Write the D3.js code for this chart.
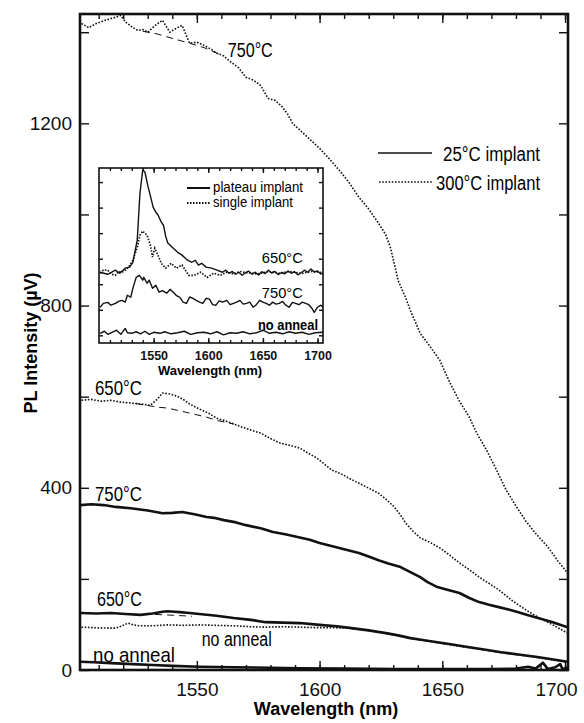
<!DOCTYPE html>
<head>
  <meta charset="utf-8">
  <script src="https://d3js.org/d3.v7.min.js"></script>
  <style type="text/css">
body { margin:0; background:#fff; }
svg { font-family: "Liberation Sans", Arial, sans-serif; }

/* 25C implant curves */
.thick { fill:none; stroke:#111; stroke-width:2.6; stroke-linejoin:round; }
/* 300C implant curves */
.dots { fill:none; stroke:#111; stroke-width:1.6; stroke-dasharray:1.6,1.6; }
/* background fits under the peak */
.fit { fill:none; stroke:#111; stroke-width:1; stroke-dasharray:7,5; }
/* inset curves */
.thin { fill:none; stroke:#111; stroke-width:1.4; stroke-linejoin:round; }
.idots { fill:none; stroke:#111; stroke-width:1.7; stroke-dasharray:1.5,1.5; }

.axis line { stroke:#111; stroke-width:1.4; }
.axis text { fill:#111; }
.frame { fill:none; stroke:#111; stroke-width:2.6; }
  </style>
</head>

<body>
  <script>

// ---- main plot data: [wavelength nm, PL intensity uV] ----
var hot750 = [[1503,1419],[1506,1410],[1509,1419],[1512,1425],[1515,1430],[1517,1433],[1519,1437],[1521,1422],[1524,1410],[1526,1404],[1528,1406],[1530,1400],[1532,1410],[1534,1419],[1536,1426],[1539,1400],[1542,1410],[1544,1415],[1547,1376],[1550,1378],[1553,1371],[1556,1362],[1558,1354],[1561,1348],[1563,1338],[1567,1322],[1570,1301],[1573,1295],[1576,1283],[1579,1255],[1582,1250],[1585,1235],[1587,1220],[1589,1200],[1593,1180],[1596,1165],[1600,1145],[1604,1122],[1608,1097],[1612,1070],[1616,1038],[1620,1012],[1624,981],[1627,955],[1629,925],[1632,855],[1635,818],[1637,789],[1641,739],[1645,710],[1649,680],[1651,655],[1654,621],[1657,590],[1661,555],[1664,520],[1668,483],[1672,440],[1676,395],[1680,360],[1684,327],[1688,300],[1693,270],[1697,240],[1701,213]];
var hot650 = [[1503,592],[1507,594],[1511,590],[1515,592],[1519,588],[1523,586],[1527,584],[1531,581],[1534,595],[1536,608],[1539,606],[1542,601],[1545,592],[1547,584],[1551,573],[1555,563],[1558,553],[1562,546],[1565,540],[1570,530],[1576,520],[1580,508],[1584,498],[1588,493],[1592,487],[1595,477],[1599,465],[1602,452],[1605,439],[1609,430],[1612,421],[1616,410],[1619,402],[1624,388],[1627,375],[1630,360],[1633,340],[1635,323],[1638,305],[1641,290],[1645,280],[1649,268],[1653,252],[1657,235],[1661,220],[1665,204],[1669,190],[1673,176],[1678,154],[1681,143],[1684,132],[1689,116],[1695,99],[1701,81]];
var hotNone = [[1503,94],[1508,93],[1513,92],[1517,92],[1520,98],[1522,103],[1524,99],[1527,97],[1532,97],[1538,99],[1545,98],[1551,99],[1558,98],[1565,97],[1572,95],[1578,94],[1585,95],[1592,94],[1598,93],[1604,93],[1611,92],[1620,87],[1627,81],[1637,70],[1648,60],[1661,49],[1674,38],[1688,28],[1701,17]];
var cold750 = [[1502.5,362],[1507,364],[1512,362],[1517,358],[1523,355],[1530,350],[1536,344],[1540,345],[1544,347],[1549,342],[1554,336],[1557,334],[1561,329],[1566,324],[1570,318],[1576,311],[1581,303],[1586,298],[1591,292],[1596,286],[1600,279],[1608,268],[1616,257],[1620,249],[1624,241],[1628,234],[1633,226],[1637,215],[1641,204],[1644,193],[1648,182],[1652,176],[1657,169],[1661,158],[1665,149],[1669,143],[1673,138],[1677,133],[1681,127],[1685,120],[1689,114],[1695,105],[1701,94]];
var cold650 = [[1502.5,125],[1509,124],[1515,125],[1521,123],[1527,121],[1532,124],[1536,128],[1538,129],[1541,128],[1543,127],[1547,125],[1551,123],[1558,119],[1565,114],[1572,110],[1578,105],[1585,104],[1592,103],[1600,99],[1607,96],[1613,92],[1620,87],[1627,81],[1632,76],[1637,70],[1642,66],[1648,61],[1654,56],[1661,50],[1667,45],[1674,39],[1681,34],[1688,29],[1694,24],[1701,18]];
var coldNone = [[1502.5,18],[1508,17],[1515,15],[1524,13],[1532,11],[1540,9],[1551,7],[1565,6],[1580,5],[1592,4],[1610,3],[1632,2],[1650,2],[1668,2],[1680,3],[1685,7],[1688,3],[1691,16],[1693,2],[1696,6],[1698,13],[1699,2],[1701,5]];
// dashed background fits under the 1540 nm peak
var fit750 = [[1528,1402],[1534,1396],[1541,1385],[1547,1376],[1553,1366],[1560,1350]];
var fit650 = [[1525,585],[1534,577],[1538,575],[1547,564],[1554,555],[1558,548],[1565,540]];
var fitCold650 = [[1533,122],[1541,120],[1548,118]];

var xTicks = [1550, 1600, 1650, 1700];
var yTicks = [0, 200, 400, 600, 800, 1000, 1200, 1400];
var yTickLabels = [0, 400, 800, 1200];

// ---- inset data: [wavelength nm, PL arb. units] ----
var insPlateau650 = [[1501,2.47],[1508,2.39],[1515,2.55],[1519,2.43],[1524,2.63],[1528,2.67],[1531,2.86],[1535,3.73],[1537.5,5.57],[1540,6.47],[1542,6.39],[1545,5.8],[1548,5.29],[1549.5,5.02],[1552,4.82],[1554,4.71],[1557,4.43],[1559,4.31],[1561,3.88],[1563,3.61],[1567,3.45],[1570,3.33],[1572,3.25],[1576,3.14],[1579,3.02],[1581,2.94],[1585,2.86],[1588,2.94],[1591,2.75],[1594,2.82],[1598,2.67],[1603,2.63],[1608,2.55],[1613,2.47],[1616,2.55],[1619,2.43],[1622,2.5],[1625,2.39],[1628,2.47],[1631,2.35],[1634,2.45],[1637,2.51],[1640,2.4],[1643,2.47],[1646,2.36],[1649,2.49],[1652,2.42],[1655,2.55],[1658,2.44],[1661,2.5],[1664,2.38],[1667,2.46],[1670,2.41],[1673,2.52],[1676,2.43],[1679,2.49],[1682,2.37],[1685,2.45],[1688,2.55],[1691,2.47],[1694,2.6],[1697,2.48],[1700,2.52],[1703,2.4],[1705,2.45]];
var insSingle650 = [[1501,2.43],[1504,2.55],[1508,2.55],[1511,2.4],[1515,2.35],[1518,2.5],[1521,2.47],[1524,2.55],[1527,2.67],[1531,2.94],[1535,3.45],[1537.5,3.92],[1540,4.08],[1542,4.0],[1544,3.92],[1547,3.53],[1549,3.06],[1551,3.41],[1554,3.14],[1557,2.82],[1561,2.63],[1566,2.82],[1571,2.63],[1576,2.75],[1582,2.35],[1587,2.35],[1593,2.47],[1599,2.27],[1605,2.43],[1611,2.35],[1617,2.47],[1623,2.4],[1629,2.5],[1635,2.45],[1645,2.4],[1655,2.5],[1665,2.43],[1675,2.5],[1685,2.42],[1695,2.5],[1705,2.45]];
var insPlateau750 = [[1501,1.1],[1504,1.25],[1508,1.29],[1511,1.18],[1515,1.25],[1518,1.33],[1521,1.37],[1524,1.3],[1526,1.57],[1529,1.49],[1531,1.84],[1534,2.27],[1537,2.35],[1540,2.16],[1541,2.27],[1544,2.04],[1546,2.16],[1549,1.84],[1552,1.96],[1555,1.69],[1558,1.75],[1562,1.65],[1565,1.8],[1568,1.69],[1571,1.55],[1574,1.49],[1577,1.3],[1580,1.25],[1583,1.5],[1586,1.45],[1589,1.37],[1592,1.3],[1595,1.25],[1598,1.45],[1601,1.42],[1604,1.2],[1607,1.18],[1610,1.35],[1613,1.3],[1617,1.37],[1620,1.2],[1623,1.25],[1626,1.3],[1629,1.37],[1632,1.22],[1635,1.25],[1638,1.3],[1641,1.1],[1644,1.2],[1647,1.37],[1650,1.3],[1653,1.25],[1656,1.18],[1659,1.3],[1662,1.22],[1665,1.25],[1668,1.33],[1671,1.18],[1674,1.1],[1677,1.29],[1680,1.25],[1683,1.2],[1686,1.3],[1689,1.25],[1692,1.2],[1695,1.05],[1697,0.9],[1700,1.1],[1703,1.18],[1705,1.1]];
var insNone = [[1501,0.08],[1505,0.16],[1508,0.04],[1512,0.12],[1516,0.2],[1520,0.04],[1524,0.27],[1526,0.1],[1530,0.08],[1534,0.14],[1538,0.06],[1542,0.16],[1546,0.04],[1550,0.12],[1556,0.08],[1560,0.14],[1566,0.06],[1572,0.1],[1578,0.16],[1584,0.04],[1590,0.1],[1596,0.12],[1602,0.06],[1608,0.14],[1614,0.02],[1620,0.1],[1626,0.08],[1632,0.14],[1638,0.06],[1644,0.1],[1650,0.2],[1656,0.08],[1662,0.12],[1668,0.06],[1674,0.14],[1680,0.08],[1686,0.12],[1692,0.04],[1698,0.1],[1705,0.12]];

var insXTicks = [1550, 1600, 1650, 1700];
var insYTicks = [0, 1, 2, 3, 4, 5, 6];

// ---- scales ----
var xScale = d3.scaleLinear().domain([1502.4, 1701.2]).range([80, 568]);
var yScale = d3.scaleLinear().domain([0, 1440]).range([670, 14]);

var ix = d3.scaleLinear().domain([1500, 1705]).range([99, 323]);
var iy = d3.scaleLinear().domain([-0.3, 6.55]).range([343, 168]);

var svg = d3.select("body").append("svg")
    .attr("width", 584)
    .attr("height", 723);

var line = d3.line()
    .x(function(d) { return xScale(d[0]); })
    .y(function(d) { return yScale(d[1]); });

var iline = d3.line()
    .x(function(d) { return ix(d[0]); })
    .y(function(d) { return iy(d[1]); });

// text squeezed to the width the scan shows
function label(x, y, txt, size, len, weight) {
  return svg.append("text")
    .attr("x", x).attr("y", y)
    .attr("font-size", size)
    .attr("font-weight", weight || "normal")
    .attr("textLength", len)
    .attr("lengthAdjust", "spacingAndGlyphs")
    .text(txt);
}

// ---- main axes (ticks point inward) ----
var minorX = d3.range(1510, 1701, 10);

svg.append("g").attr("class", "axis")
    .attr("transform", "translate(0,670)")
    .call(d3.axisBottom(xScale).tickValues(minorX).tickSize(-5).tickFormat(""));
var xAxisG = svg.append("g").attr("class", "axis")
    .attr("transform", "translate(0,670)")
    .style("font-size", "19px")
    .call(d3.axisBottom(xScale).tickValues(xTicks).tickSize(-9).tickPadding(13).tickFormat(d3.format("d")));
// last label sits a little left of its tick in the scan
xAxisG.selectAll(".tick text").filter(function(d) { return d === 1700; }).attr("dx", "-9");

svg.append("g").attr("class", "axis")
    .attr("transform", "translate(0,14)")
    .call(d3.axisTop(xScale).tickValues(minorX).tickSize(-5).tickFormat(""));
svg.append("g").attr("class", "axis")
    .attr("transform", "translate(0,14)")
    .call(d3.axisTop(xScale).tickValues(xTicks).tickSize(-9).tickFormat(""));

svg.append("g").attr("class", "axis")
    .attr("transform", "translate(80,0)")
    .style("font-size", "19px")
    .call(d3.axisLeft(yScale).tickValues(yTicks).tickSize(-9).tickPadding(8)
      .tickFormat(function(d) { return yTickLabels.indexOf(d) >= 0 ? d : ""; }));
svg.append("g").attr("class", "axis")
    .attr("transform", "translate(568,0)")
    .call(d3.axisRight(yScale).tickValues(yTicks).tickSize(-9).tickFormat(""));

svg.selectAll(".axis .domain").remove();
svg.selectAll(".axis text").attr("font-family", null);

svg.append("rect").attr("class", "frame")
    .attr("x", 80).attr("y", 14).attr("width", 488).attr("height", 656);

// axis titles
svg.append("text")
    .attr("x", 326).attr("y", 715)
    .attr("text-anchor", "middle")
    .attr("font-size", "18px").attr("font-weight", "bold")
    .text("Wavelength (nm)");
svg.append("text")
    .attr("transform", "translate(37,343) rotate(-90)")
    .attr("text-anchor", "middle")
    .attr("font-size", "18px").attr("font-weight", "bold")
    .text("PL Intensity (\u00B5V)");

// ---- main curves ----
svg.append("path").datum(fit750).attr("class", "fit").attr("d", line);
svg.append("path").datum(fit650).attr("class", "fit").attr("d", line);
svg.append("path").datum(fitCold650).attr("class", "fit").attr("d", line);

[hot750, hot650, hotNone].forEach(function(s) {
  svg.append("path").datum(s).attr("class", "dots").attr("d", line);
});
[cold750, cold650, coldNone].forEach(function(s) {
  svg.append("path").datum(s).attr("class", "thick").attr("d", line);
});

// curve labels
label(xScale(1562.6), yScale(1345), "750\u00B0C", "20px", 45);
label(xScale(1508.5), yScale(603), "650\u00B0C", "20px", 47);
label(xScale(1508.5), yScale(371), "750\u00B0C", "20px", 47);
label(xScale(1509.3), yScale(140), "650\u00B0C", "20px", 45);
label(xScale(1552), yScale(53), "no anneal", "20px", 70);
label(xScale(1507.7), yScale(18), "no anneal", "21px", 82);

// main legend
svg.append("line").attr("x1", 378).attr("x2", 432).attr("y1", 153).attr("y2", 153)
    .attr("class", "thin");
svg.append("line").attr("x1", 379).attr("x2", 432).attr("y1", 182).attr("y2", 182)
    .attr("class", "dots");
label(443, 161, "25\u00B0C implant", "20px", 97);
label(436, 190, "300\u00B0C implant", "20px", 104);

// ---- inset ----
svg.append("rect")
    .attr("x", 99).attr("y", 168).attr("width", 224).attr("height", 175)
    .attr("fill", "#fff");

var insMinor = d3.range(1510, 1705, 10);
svg.append("g").attr("class", "axis")
    .attr("transform", "translate(0,343)")
    .call(d3.axisBottom(ix).tickValues(insMinor).tickSize(-3).tickFormat(""));
svg.append("g").attr("class", "axis")
    .attr("transform", "translate(0,343)")
    .style("font-size", "12.5px").style("font-weight", "bold")
    .call(d3.axisBottom(ix).tickValues(insXTicks).tickSize(-5).tickPadding(8).tickFormat(d3.format("d")));
svg.append("g").attr("class", "axis")
    .attr("transform", "translate(0,168)")
    .call(d3.axisTop(ix).tickValues(insMinor).tickSize(-3).tickFormat(""));
svg.append("g").attr("class", "axis")
    .attr("transform", "translate(0,168)")
    .call(d3.axisTop(ix).tickValues(insXTicks).tickSize(-5).tickFormat(""));
svg.append("g").attr("class", "axis")
    .attr("transform", "translate(99,0)")
    .call(d3.axisLeft(iy).tickValues(insYTicks).tickSize(-4).tickFormat(""));
svg.append("g").attr("class", "axis")
    .attr("transform", "translate(323,0)")
    .call(d3.axisRight(iy).tickValues(insYTicks).tickSize(-4).tickFormat(""));
svg.selectAll(".axis .domain").remove();
svg.selectAll(".axis text").attr("font-family", null);

svg.append("rect")
    .attr("x", 99).attr("y", 168).attr("width", 224).attr("height", 175)
    .attr("fill", "none").attr("stroke", "#111").attr("stroke-width", 1.6);

svg.append("text")
    .attr("x", 210).attr("y", 375)
    .attr("text-anchor", "middle")
    .attr("font-size", "13px").attr("font-weight", "bold")
    .text("Wavelength (nm)");

svg.append("path").datum(insNone).attr("class", "thin").attr("d", iline);
svg.append("path").datum(insPlateau750).attr("class", "thin").attr("d", iline);
svg.append("path").datum(insSingle650).attr("class", "idots").attr("d", iline);
svg.append("path").datum(insPlateau650).attr("class", "thin").attr("d", iline);

label(ix(1649), iy(2.82), "650\u00B0C", "15px", 41);
label(ix(1649), iy(1.45), "750\u00B0C", "15px", 41);
label(ix(1645.5), iy(0.2), "no anneal", "14px", 60, "bold");

// inset legend
svg.append("line").attr("x1", 187).attr("x2", 210).attr("y1", 188).attr("y2", 188)
    .attr("class", "thick").style("stroke-width", 2);
svg.append("line").attr("x1", 187).attr("x2", 210).attr("y1", 203).attr("y2", 203)
    .attr("class", "idots").style("stroke-width", 2);
label(213, 192, "plateau implant", "14px", 90);
label(213, 207, "single implant", "14px", 80);

  </script>
</body>
